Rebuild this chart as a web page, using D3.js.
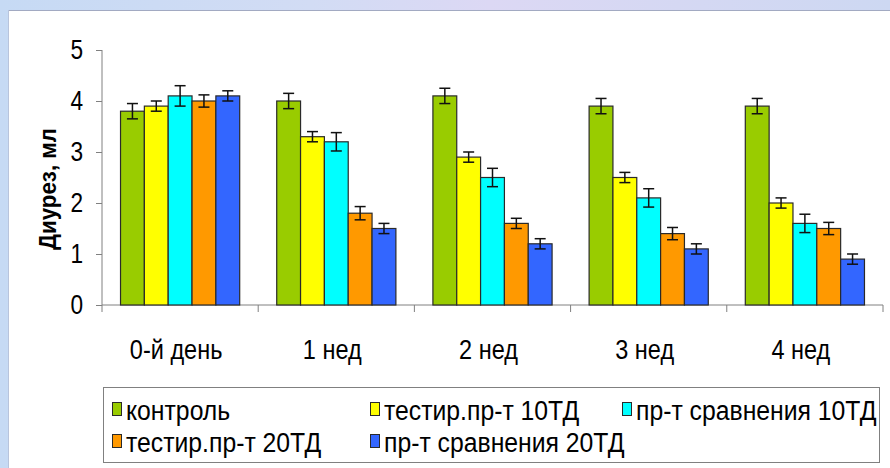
<!DOCTYPE html>
<html><head><meta charset="utf-8">
<script src="https://cdn.jsdelivr.net/npm/d3@7/dist/d3.min.js"></script>
<style>html,body{margin:0;padding:0;overflow:hidden;}svg{display:block;}</style>
</head><body>
<svg id="chart" width="890" height="468"></svg>
<script>
const categories = ["0-й день", "1 нед", "2 нед", "3 нед", "4 нед"];
const seriesNames = ["контроль", "тестир.пр-т 10ТД", "пр-т сравнения 10ТД", "тестир.пр-т 20ТД", "пр-т сравнения 20ТД"];
const seriesColors = ["#99cc00", "#ffff00", "#00ffff", "#ff9900", "#3366ff"];
const valuesControl = [3.8, 4.0, 4.1, 3.9, 3.9];
const valuesTest10 = [3.9, 3.3, 2.9, 2.5, 2.0];
const valuesRef10 = [4.1, 3.2, 2.5, 2.1, 1.6];
const valuesTest20 = [4.0, 1.8, 1.6, 1.4, 1.5];
const valuesRef20 = [4.1, 1.5, 1.2, 1.1, 0.9];
const errControl = [0.15, 0.15, 0.15, 0.15, 0.15];
const errTest10 = [0.1, 0.1, 0.1, 0.1, 0.1];
const errRef10 = [0.2, 0.18, 0.18, 0.18, 0.18];
const errTest20 = [0.12, 0.13, 0.1, 0.12, 0.12];
const errRef20 = [0.1, 0.1, 0.1, 0.1, 0.1];
const yTicks = [0, 1, 2, 3, 4, 5];
const yTitle = "Диурез, мл";

const seriesValues = [valuesControl, valuesTest10, valuesRef10, valuesTest20, valuesRef20];
const seriesErrors = [errControl, errTest10, errRef10, errTest20, errRef20];

const svg = d3.select("#chart");
const W = 890, H = 468;
const NARROW = 0.84;
const LEG_NARROW = 0.9;
const FONT = "'Liberation Sans', Arial, sans-serif";

// background gradient
const defs = svg.append("defs");
const g1 = defs.append("linearGradient").attr("id", "bg").attr("x1", "0").attr("x2", "1").attr("y1", "0").attr("y2", "0");
g1.append("stop").attr("offset", "0%").attr("stop-color", "#c6daf4");
g1.append("stop").attr("offset", "35%").attr("stop-color", "#d2dcf4");
g1.append("stop").attr("offset", "55%").attr("stop-color", "#dcd8f4");
g1.append("stop").attr("offset", "100%").attr("stop-color", "#cdd8f2");
svg.append("rect").attr("width", W).attr("height", H).attr("fill", "url(#bg)");
svg.append("rect").attr("x", 8).attr("y", 10).attr("width", W - 8).attr("height", H - 10)
  .attr("fill", "#ffffff");
svg.append("line").attr("x1", 8).attr("x2", W).attr("y1", 10.5).attr("y2", 10.5).attr("stroke", "#a2aac2").attr("stroke-width", 1.2);
svg.append("line").attr("x1", 8.5).attr("x2", 8.5).attr("y1", 10).attr("y2", H).attr("stroke", "#b8c4dc").attr("stroke-width", 1);

const x0 = d3.scaleBand().domain(categories).range([102, 883]).paddingInner(0.237).paddingOuter(0.1186);
const x1 = d3.scaleBand().domain(seriesNames).range([0, x0.bandwidth()]).padding(0);
const y = d3.scaleLinear().domain([0, 5]).range([305, 50]);

// axes
const yAxis = d3.axisLeft(y).tickValues(yTicks).tickSize(6).tickPadding(13).tickFormat(d3.format("d"));
const gy = svg.append("g").attr("transform", "translate(102,0)").call(yAxis);
gy.select(".domain").attr("stroke", "#808080").attr("d", "M0," + y(5) + "V" + y(0));
gy.selectAll(".tick line").attr("stroke", "#808080");
gy.selectAll(".tick text").attr("font-family", FONT).attr("font-size", 27).attr("fill", "#000")
  .each(function() {
    const t = d3.select(this);
    const xx = +t.attr("x");
    t.attr("transform", "scale(" + NARROW + ",1)").attr("x", xx / NARROW);
  });

const gx = svg.append("g").attr("transform", "translate(0,305)");
gx.append("line").attr("x1", 102).attr("x2", 883).attr("stroke", "#808080");
const boundaries = categories.map(c => x0(c) - x0.step() * x0.paddingOuter()).concat([883]);
gx.selectAll("line.tk").data(boundaries).enter().append("line").attr("class", "tk")
  .attr("x1", d => d).attr("x2", d => d).attr("y1", 0).attr("y2", 7).attr("stroke", "#808080");
gx.selectAll("text.cat").data(categories).enter().append("text").attr("class", "cat")
  .attr("transform", d => "translate(" + (x0(d) + x0.bandwidth() / 2 - 4) + ",54) scale(" + NARROW + ",1)")
  .attr("text-anchor", "middle").attr("font-family", FONT).attr("font-size", 28).attr("fill", "#000")
  .text(d => d);

// y title
svg.append("text")
  .attr("transform", "translate(56," + 189 + ") rotate(-90) scale(0.93,1)")
  .attr("text-anchor", "middle").attr("font-family", FONT).attr("font-weight", "bold")
  .attr("font-size", 24).attr("fill", "#000").text(yTitle);

// bars
const rows = [];
categories.forEach((c, ci) => {
  seriesNames.forEach((s, si) => {
    rows.push({ c, s, si, v: seriesValues[si][ci], e: seriesErrors[si][ci] });
  });
});
const gb = svg.append("g");
gb.selectAll("rect").data(rows).enter().append("rect")
  .attr("x", d => x0(d.c) + x1(d.s))
  .attr("y", d => y(d.v))
  .attr("width", x1.bandwidth())
  .attr("height", d => y(0) - y(d.v))
  .attr("fill", d => seriesColors[d.si])
  .attr("stroke", "#2a2a2a").attr("stroke-width", 1.2);

// error bars
const ge = svg.append("g").attr("stroke", "#111").attr("stroke-width", 1.5);
const cap = 5.5;
rows.forEach(d => {
  const cx = x0(d.c) + x1(d.s) + x1.bandwidth() / 2;
  ge.append("line").attr("x1", cx).attr("x2", cx).attr("y1", y(d.v + d.e)).attr("y2", y(d.v - d.e));
  ge.append("line").attr("x1", cx - cap).attr("x2", cx + cap).attr("y1", y(d.v + d.e)).attr("y2", y(d.v + d.e));
  ge.append("line").attr("x1", cx - cap).attr("x2", cx + cap).attr("y1", y(d.v - d.e)).attr("y2", y(d.v - d.e));
});

// legend
const lg = svg.append("g");
lg.append("rect").attr("x", 103.5).attr("y", 387.5).attr("width", 776).attr("height", 75)
  .attr("fill", "#fff").attr("stroke", "#808080").attr("stroke-width", 1);
const legCols = [112, 370, 622];
const legRows = [410, 442];
seriesNames.forEach((s, i) => {
  const lx = legCols[i % 3], ly = legRows[Math.floor(i / 3)];
  lg.append("rect").attr("x", lx + 0.5).attr("y", ly - 7.5).attr("width", 9).attr("height", 13)
    .attr("fill", seriesColors[i]).attr("stroke", "#2a2a2a").attr("stroke-width", 1);
  lg.append("text").attr("transform", "translate(" + (lx + 14) + "," + (ly + 9.5) + ") scale(" + LEG_NARROW + ",1)")
    .attr("font-family", FONT).attr("font-size", 27.5).attr("fill", "#000").text(s);
});
</script>
</body></html>
